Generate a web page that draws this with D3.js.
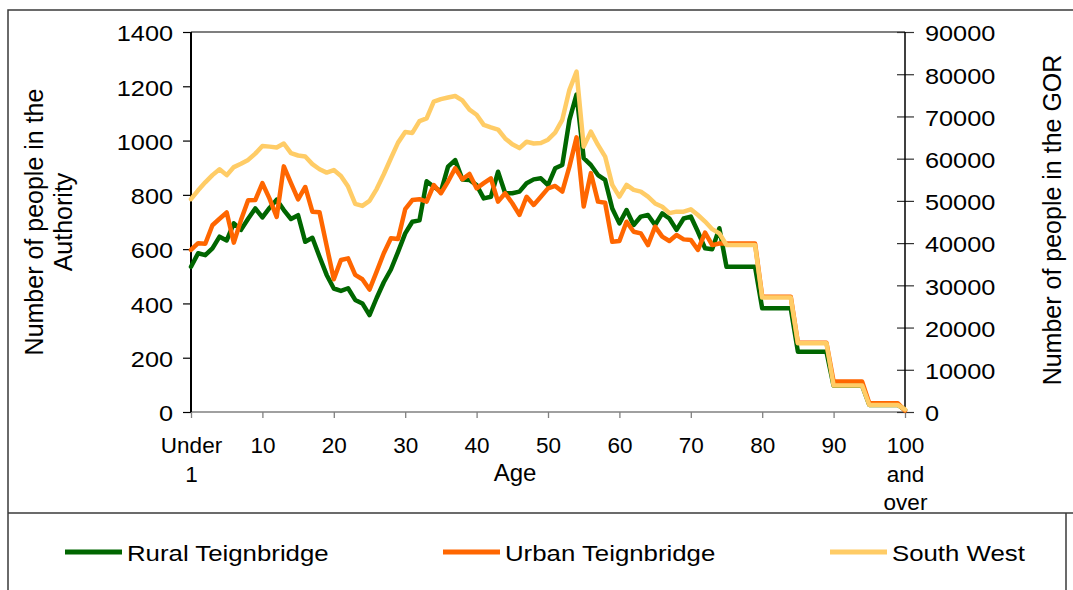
<!DOCTYPE html>
<html><head><meta charset="utf-8">
<script src="https://cdn.jsdelivr.net/npm/d3@7"></script>
<style>
body{margin:0;background:#fff}
svg{display:block}
text{font-family:"Liberation Sans",Arial,sans-serif;fill:#000}
</style></head><body>
<svg id="c" width="1073" height="590"></svg>
<script>
// Ages 0 ("Under 1") .. 100 ("100 and over")
const ages = d3.range(0, 101);
const tickAges = [0,10,20,30,40,50,60,70,80,90,100];
const tickLabels = ["Under 1","10","20","30","40","50","60","70","80","90","100 and over"];
const leftTicks = [0,200,400,600,800,1000,1200,1400];
const rightTicks = [0,10000,20000,30000,40000,50000,60000,70000,80000,90000];

const rural = [
535,585,578,603,646,632,695,671,712,750,
717,752,782,744,711,725,627,642,572,505,
455,446,456,413,400,357,420,478,525,590,
658,701,706,850,830,812,904,928,857,855,
836,787,793,885,806,806,812,843,857,861,
836,898,910,1076,1170,935,910,873,855,750,
695,744,689,720,726,689,732,713,671,713,
720,664,603,600,677,535,535,535,535,535,
382,382,382,382,382,222,222,222,222,222,
97,97,97,97,97,26,26,26,26,26,
8];
const urban = [
597,622,620,688,712,735,624,707,780,781,
843,786,719,905,843,783,829,738,736,612,
489,560,566,505,489,451,517,585,640,637,
747,781,784,775,836,806,849,898,857,877,
824,843,861,775,806,769,726,793,763,793,
824,833,812,904,1012,757,880,775,771,627,
630,701,664,658,615,683,646,630,652,636,
634,597,661,615,621,621,621,621,621,621,
425,425,425,425,425,255,255,255,255,255,
112,112,112,112,112,32,32,32,32,32,
5];
const southWest = [
50400,52500,54400,56100,57500,56100,58000,58800,59700,61200,
63000,62850,62650,63600,61300,60750,60500,58700,57500,56700,
57300,55900,53400,49300,48800,50000,52800,56300,60100,63800,
66300,66100,68900,69550,73500,74100,74500,74850,73800,71600,
70400,68000,67400,66900,64800,63400,62500,64000,63600,63700,
64500,66150,69200,76300,80600,62850,66400,63250,60500,53800,
51000,53800,52600,52200,51000,49400,48600,47100,47450,47450,
48000,46650,45100,43300,42300,39550,39550,39550,39550,39550,
27100,27100,27100,27100,27100,16300,16300,16300,16300,16300,
6250,6250,6250,6250,6250,1650,1650,1650,1650,1650,
600];

const seriesNames = ["Rural Teignbridge","Urban Teignbridge","South West"];
const seriesColors = ["#006600","#FF6600","#FFCC66"];

const svg = d3.select("#c");
const L = 191, R = 905, T = 32, B = 412;
const x = d3.scaleLinear().domain([0,100]).range([L,R]);
const yL = d3.scaleLinear().domain([0,1400]).range([B,T]);
const yR = d3.scaleLinear().domain([0,90000]).range([B,T]);
const fmt = d3.format("d");

// frame
const frame = "#3a3a3a";
svg.append("path").attr("d","M8,590V10H1073").attr("fill","none").attr("stroke",frame).attr("stroke-width",1.5);
svg.append("line").attr("x1",8).attr("x2",1073).attr("y1",513).attr("y2",513).attr("stroke",frame).attr("stroke-width",1.5);
svg.append("line").attr("x1",1066).attr("x2",1066).attr("y1",513).attr("y2",590).attr("stroke",frame).attr("stroke-width",1.5);

// plot top border & bottom axis line
svg.append("line").attr("x1",L).attr("x2",R).attr("y1",T).attr("y2",T).attr("stroke","#555").attr("stroke-width",1.3);
svg.append("line").attr("x1",L).attr("x2",R).attr("y1",B).attr("y2",B).attr("stroke","#808080").attr("stroke-width",1.5);

function stretch(sel, k, origin){
  sel.style("transform-box","fill-box").style("transform-origin",origin).style("transform",`scaleX(${k})`);
}

// left axis
const gl = svg.append("g").attr("transform",`translate(${L},0)`)
  .call(d3.axisLeft(yL).tickValues(leftTicks).tickFormat(fmt).tickSize(8).tickSizeOuter(0).tickPadding(10));
gl.select(".domain").remove();
gl.selectAll(".tick line").attr("stroke","#000").attr("stroke-width",1.2);
gl.selectAll(".tick text").attr("dy","0.4em").style("font-size","22px").style("font-family",'"Liberation Sans",Arial,sans-serif');
stretch(gl.selectAll(".tick text"),1.15,"100% 50%");
svg.append("line").attr("x1",L).attr("x2",L).attr("y1",T).attr("y2",B+1).attr("stroke","#000").attr("stroke-width",2);

// right axis
const gr = svg.append("g").attr("transform",`translate(${R},0)`)
  .call(d3.axisRight(yR).tickValues(rightTicks).tickFormat(fmt).tickSize(9).tickSizeOuter(0).tickPadding(11));
gr.select(".domain").remove();
gr.selectAll(".tick line").attr("x1",-8).attr("x2",9).attr("stroke","#333").attr("stroke-width",1.2);
gr.selectAll(".tick text").attr("dy","0.4em").style("font-size","22px").style("font-family",'"Liberation Sans",Arial,sans-serif');
stretch(gr.selectAll(".tick text"),1.15,"0% 50%");
svg.append("line").attr("x1",R).attr("x2",R).attr("y1",T).attr("y2",B+1).attr("stroke","#000").attr("stroke-width",1.5);

// bottom axis
const gx = svg.append("g").attr("transform",`translate(0,${B})`)
  .call(d3.axisBottom(x).tickValues(tickAges).tickSize(6).tickSizeOuter(0).tickFormat((d,i)=>tickLabels[i]));
gx.select(".domain").remove();
gx.selectAll(".tick line").attr("stroke","#808080").attr("stroke-width",1.3);
gx.selectAll(".tick text").each(function(){
  const t = d3.select(this);
  const words = t.text().split(" ");
  t.text(null).attr("y",null).attr("dy",null)
   .style("font-size","22.5px").style("font-family",'"Liberation Sans",Arial,sans-serif');
  words.forEach((w,j)=>t.append("tspan").attr("x",0).attr("y",41+j*28.5).text(w));
});

// axis titles
svg.append("text").attr("x",515).attr("y",481).attr("text-anchor","middle")
  .style("font-size","24px").text("Age");
const lt = svg.append("g").attr("transform","translate(43,222) rotate(-90)")
  .append("text").attr("text-anchor","middle").style("font-size","25px");
lt.append("tspan").attr("x",0).attr("y",0).text("Number of people in the");
lt.append("tspan").attr("x",0).attr("y",29).text("Authority");
svg.append("g").attr("transform","translate(1061,220) rotate(-90)")
  .append("text").attr("text-anchor","middle").style("font-size","25px")
  .text("Number of people in the GOR");

// lines
const lineL = d3.line().x((d,i)=>x(ages[i])).y(d=>yL(d));
const lineR = d3.line().x((d,i)=>x(ages[i])).y(d=>yR(d));
const paths = [[rural,lineL],[urban,lineL],[southWest,lineR]];
paths.forEach(([data,gen],k)=>{
  svg.append("path").attr("d",gen(data)).attr("fill","none")
    .attr("stroke",seriesColors[k]).attr("stroke-width",4.5)
    .attr("stroke-linejoin","round").attr("stroke-linecap","round");
});

// legend
const legX = [65,443,830];
const lg = svg.append("g");
seriesNames.forEach((name,k)=>{
  lg.append("line").attr("x1",legX[k]).attr("x2",legX[k]+57).attr("y1",552).attr("y2",552)
    .attr("stroke",seriesColors[k]).attr("stroke-width",5);
  const t = lg.append("text").attr("x",legX[k]+62).attr("y",561.5).style("font-size","21.5px").text(name);
  stretch(t,1.2,"0% 50%");
});
</script>
</body></html>
